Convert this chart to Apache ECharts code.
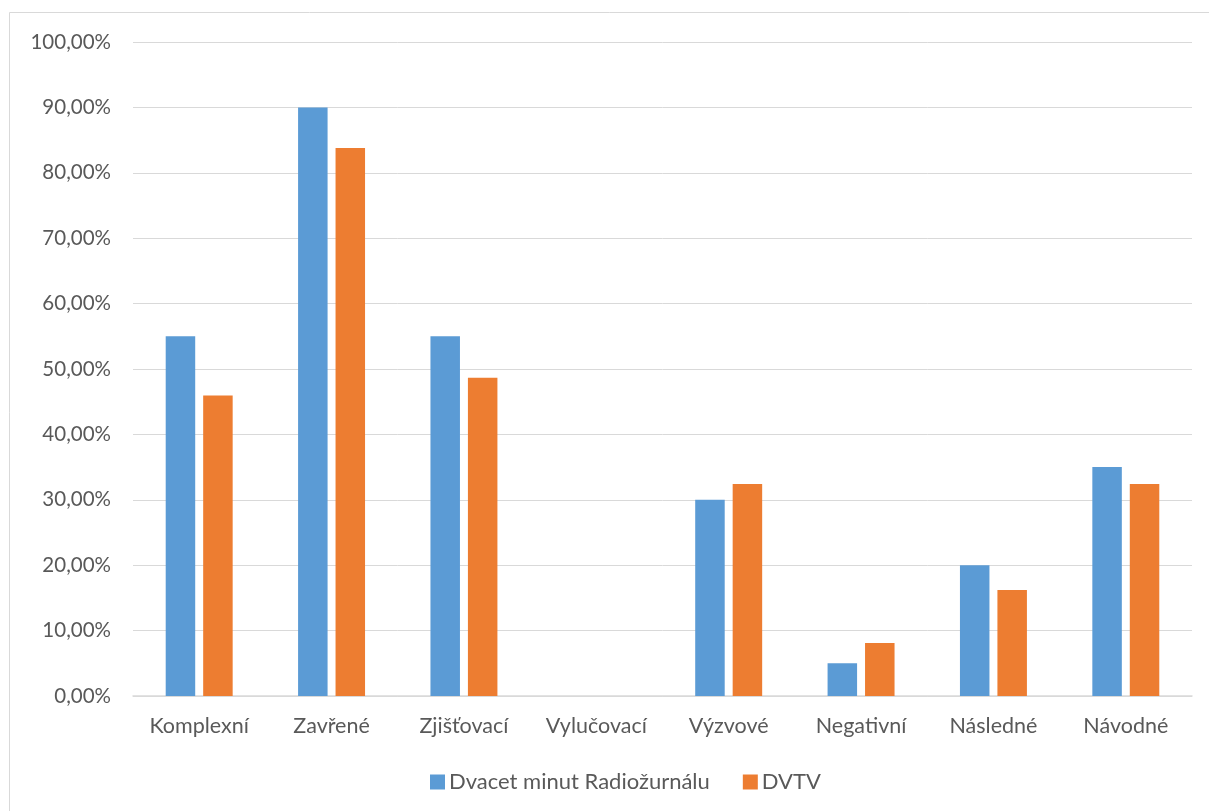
<!DOCTYPE html>
<html><head><meta charset="utf-8">
<script src="https://cdn.jsdelivr.net/npm/echarts@6/dist/echarts.min.js"></script>
<style>html,body{margin:0;padding:0;background:#fff}#c{width:1209px;height:811px}</style>
</head><body><div id="c"></div>
<script>
const categories = ["Komplexní","Zavřené","Zjišťovací","Vylučovací","Výzvové","Negativní","Následné","Návodné"];
const radiozurnal = [55.00, 90.00, 55.00, 0, 30.00, 5.00, 20.00, 35.00];
const dvtv = [45.95, 83.78, 48.65, 0, 32.43, 8.11, 16.22, 32.43];
const seriesNames = ["Dvacet minut Radiožurnálu", "DVTV"];

const font = 'Lato, "Open Sans", sans-serif';
const chart = echarts.init(document.getElementById('c'), null, {renderer:'canvas'});
chart.setOption({
  animation:false,
  backgroundColor:'#fff',
  graphic:[{type:'rect', shape:{x:9.5,y:12.5,width:1230,height:830}, style:{fill:'none',stroke:'#d9d9d9',lineWidth:1}, silent:true}],
  grid:{left:133, right:17, top:42, bottom:115, containLabel:false},
  legend:{
    data:seriesNames, top:766, left:425, itemWidth:15, itemHeight:15, itemGap:33,
    icon:'rect',
    textStyle:{color:'#595959', fontSize:22, fontFamily:font, padding:[0,0,0,-1]}
  },
  xAxis:{
    type:'category', data:categories,
    axisLine:{lineStyle:{color:'#d9d9d9', width:1.5}},
    axisTick:{show:false},
    axisLabel:{color:'#595959', fontSize:21.5, fontFamily:font, margin:19}
  },
  yAxis:{
    type:'value', min:0, max:100, interval:10,
    axisLine:{show:false}, axisTick:{show:false},
    splitLine:{lineStyle:{color:'#d9d9d9', width:1}},
    axisLabel:{color:'#595959', fontSize:20.5, fontFamily:font, margin:22,
      formatter:v=>v.toFixed(2).replace('.',',')+'%'}
  },
  series:[
    {name:seriesNames[0], type:'bar', data:radiozurnal, barWidth:29.5, barGap:'27%', itemStyle:{color:'#5b9bd5'}},
    {name:seriesNames[1], type:'bar', data:dvtv, barWidth:29.5, barGap:'27%', itemStyle:{color:'#ed7d31'}}
  ]
});
</script></body></html>
